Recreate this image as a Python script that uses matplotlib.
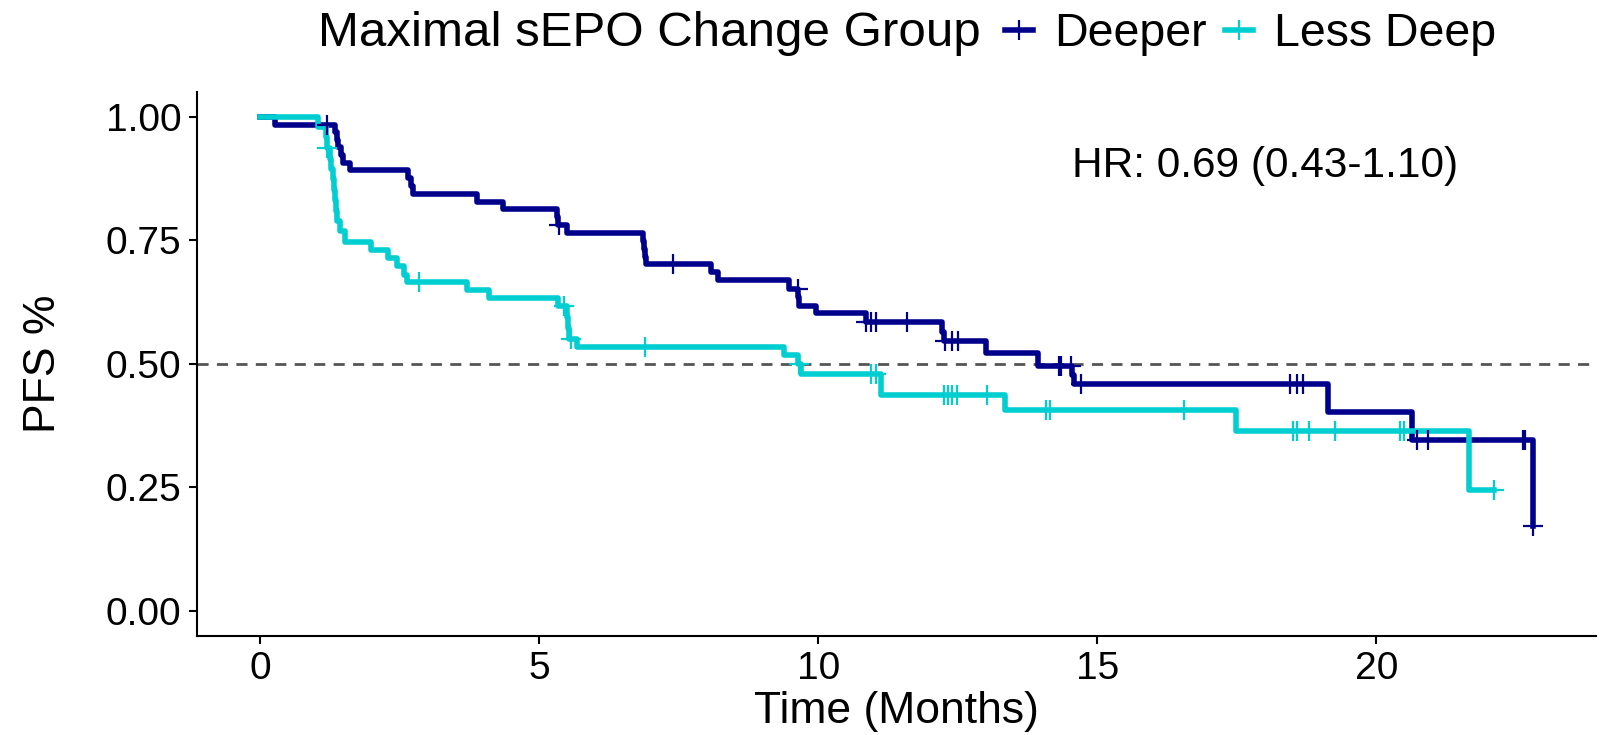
import numpy as np
import matplotlib
matplotlib.use("Agg")
import matplotlib.pyplot as plt
from matplotlib.lines import Line2D

plt.rcParams['font.family'] = ['Liberation Sans', 'DejaVu Sans']

# Deeper group: step times and survival after each step
deep_t = [0.0, 0.26, 1.33, 1.38, 1.40, 1.44, 1.48, 1.60, 2.65, 2.70, 2.74, 3.89, 4.34,
          5.32, 5.34, 5.50, 6.85, 6.87, 6.89, 6.91, 8.08, 8.20, 9.48, 9.64, 9.66, 9.96,
          10.85, 12.22, 12.25, 13.00, 13.94, 14.55, 14.58, 19.14, 20.64, 22.80]
deep_s = [1.0, 0.984, 0.969, 0.953, 0.938, 0.922, 0.906, 0.891, 0.875, 0.859, 0.844, 0.828, 0.813,
          0.797, 0.781, 0.765, 0.749, 0.733, 0.717, 0.701, 0.685, 0.669, 0.652, 0.635, 0.617, 0.602,
          0.585, 0.565, 0.546, 0.522, 0.495, 0.477, 0.459, 0.402, 0.345, 0.172]
deep_cens = [1.20, 5.35, 7.40, 9.63, 10.86, 10.94, 11.03, 11.59, 12.26, 12.39, 12.50,
             14.32, 14.34, 14.52, 14.71, 18.45, 18.58, 18.68, 20.72, 20.92, 22.62, 22.67, 22.80]

# Less Deep group
less_t = [0.0, 1.04, 1.18, 1.19, 1.24, 1.27, 1.30, 1.32, 1.34, 1.36, 1.38, 1.42, 1.51,
          1.99, 2.28, 2.45, 2.58, 2.62, 3.71, 4.10, 5.33, 5.50, 5.52, 5.54, 5.67,
          9.39, 9.64, 9.68, 11.12, 13.35, 17.48, 21.65]
less_s = [1.0, 0.979, 0.958, 0.936, 0.915, 0.894, 0.873, 0.852, 0.831, 0.810, 0.789, 0.768, 0.747,
          0.731, 0.714, 0.697, 0.680, 0.665, 0.650, 0.633, 0.616, 0.595, 0.573, 0.551, 0.534,
          0.517, 0.499, 0.480, 0.437, 0.406, 0.365, 0.244]
less_cens = [1.20, 2.85, 5.45, 5.56, 6.89, 9.66, 10.95, 11.03, 12.25, 12.33, 12.40, 12.48,
             13.02, 14.08, 14.15, 16.56, 18.51, 18.58, 18.80, 19.25, 20.42, 20.50, 22.10]

groups = ["Deeper", "Less Deep"]
colors = ["#00008B", "#00CED1"]
hr_text = "HR: 0.69 (0.43-1.10)"


def draw_km(ax, t, s, cens, color):
    t = np.array(t)
    s = np.array(s)
    end = max(t[-1], max(cens))
    ax.step(np.r_[t, end], np.r_[s, s[-1]], where='post', color=color, lw=4.0, zorder=3)
    idx = np.searchsorted(t, cens, side='right') - 1
    ax.plot(cens, s[idx], ls='none', marker='+', ms=14, mew=1.6, color=color, zorder=4)


def main():
    fig = plt.figure(figsize=(16.19, 7.35), dpi=100)
    ax = fig.add_axes([0.1215, 0.135, 0.986 - 0.1215, 0.875 - 0.135])

    ax.axhline(0.5, color='#555555', lw=2.0, ls=(0, (4, 3)), zorder=2)
    draw_km(ax, deep_t, deep_s, deep_cens, colors[0])
    draw_km(ax, less_t, less_s, less_cens, colors[1])

    ax.set_xlim(-1.14, 23.94)
    ax.set_ylim(-0.05, 1.05)
    ax.set_xticks([0, 5, 10, 15, 20])
    ax.set_yticks([0, 0.25, 0.5, 0.75, 1.0])
    ax.set_yticklabels(["0.00", "0.25", "0.50", "0.75", "1.00"])
    for side in ['top', 'right']:
        ax.spines[side].set_visible(False)
    for side in ['left', 'bottom']:
        ax.spines[side].set_linewidth(1.5)
    ax.tick_params(axis='both', labelsize=28, width=1.5, length=6, pad=5, colors='black')
    ax.set_xlabel("Time (Months)", fontsize=32, labelpad=3)
    ax.set_ylabel("PFS %", fontsize=32, labelpad=30)

    ax.text(18.0, 0.9, hr_text, fontsize=30.5, ha='center', va='center')

    # legend across the top
    fig.text(981 / 1619, 1 - 34 / 735, "Maximal sEPO Change Group", fontsize=35.5,
             ha='right', va='center')
    handles = [Line2D([], [], color=c, lw=4.0, marker='+', ms=14, mew=1.6) for c in colors]
    fig.legend(handles, groups, loc='center left', bbox_to_anchor=(1005 / 1619, 1 - 34 / 735),
               ncol=2, frameon=False, fontsize=33.5, handlelength=0.6, handletextpad=0.45,
               columnspacing=0.4, borderpad=0, borderaxespad=0, numpoints=1)

    fig.savefig('out.png', dpi=100)
    plt.close(fig)


if __name__ == '__main__':
    main()
